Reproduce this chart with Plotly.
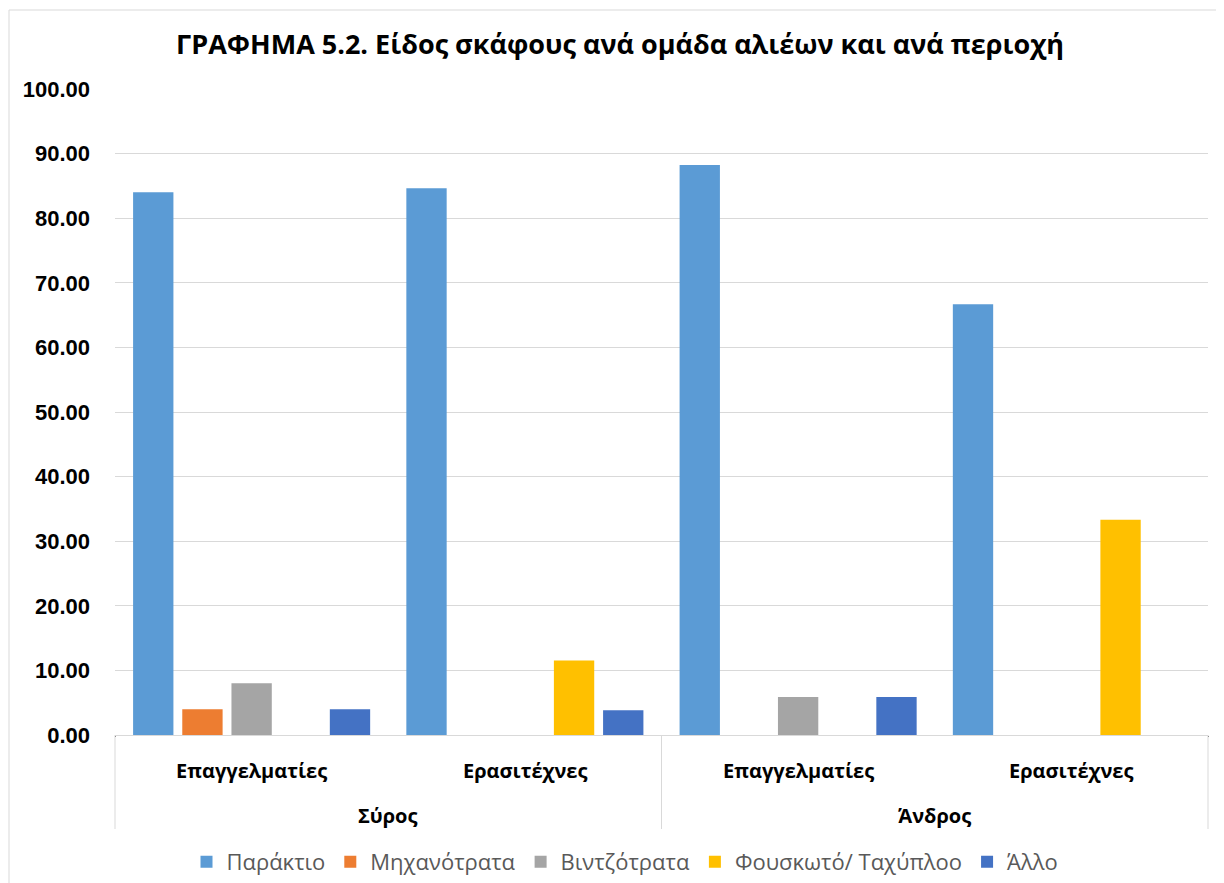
import plotly.graph_objects as go

regions = ["Σύρος", "Σύρος", "Άνδρος", "Άνδρος"]
groups = ["Επαγγελματίες", "Ερασιτέχνες", "Επαγγελματίες", "Ερασιτέχνες"]

series_names = ["Παράκτιο", "Μηχανότρατα", "Βιντζότρατα", "Φουσκωτό/ Ταχύπλοο", "Άλλο"]
parakt = [84.00, 84.62, 88.24, 66.67]
mixan = [4.00, 0.00, 0.00, 0.00]
vintz = [8.00, 0.00, 5.88, 0.00]
fousk = [0.00, 11.54, 0.00, 33.33]
allo = [4.00, 3.85, 5.88, 0.00]
values = [parakt, mixan, vintz, fousk, allo]
colors = ["#5B9BD5", "#ED7D31", "#A5A5A5", "#FFC000", "#4472C4"]

fig = go.Figure()
for name, vals, col in zip(series_names, values, colors):
    fig.add_trace(go.Bar(
        x=[regions, groups], y=vals, name=name,
        marker=dict(color=col, line=dict(width=0)),
    ))

# page body adds an 8px offset; figure coordinates = screen - 8
W, H = 1224, 883
OFF = 8
L = 115 - OFF
T = 89 - OFF
plot_bottom = 735 - OFF
B = H - plot_bottom
R = W - (1208 - OFF)
pw, ph = W - L - R, H - T - B

def px2x(sx):
    return (sx - OFF - L) / pw

def py2y(sy):
    return (plot_bottom - (sy - OFF)) / ph

GRID = "#D9D9D9"
fig.update_layout(
    width=W, height=H,
    margin=dict(l=L, r=R, t=T, b=B, autoexpand=False),
    paper_bgcolor="white", plot_bgcolor="white",
    barmode="group", bargap=0.10, bargroupgap=0.18,
    title=dict(text="<b>ΓΡΑΦΗΜΑ 5.2. Είδος σκάφους ανά ομάδα αλιέων και ανά περιοχή</b>",
               x=0.5, xanchor="center", y=1 - (45 - OFF) / H, yanchor="middle",
               font=dict(family="Open Sans", size=27, color="black")),
    legend=dict(orientation="h", x=px2x(625), xanchor="center", y=py2y(862), yanchor="middle",
                font=dict(family="Open Sans", size=22, color="#595959"),
                itemsizing="constant", traceorder="normal", itemwidth=30),
    showlegend=True,
    font=dict(family="Open Sans"),
)
fig.update_yaxes(range=[0, 100], dtick=10, tickformat=".2f", automargin=False,
                 showgrid=True, gridcolor=GRID, gridwidth=1,
                 zeroline=False, showline=False, ticks="", ticklabelstandoff=24,
                 tickfont=dict(family="Liberation Sans", size=22, color="black", weight="bold"))
fig.update_xaxes(type="multicategory", showline=True, linecolor=GRID, linewidth=1,
                 showticklabels=False, automargin=False, ticks="")

# category labels (two levels) under the axis
n = len(groups)
for i, g in enumerate(groups):
    fig.add_annotation(text="<b>%s</b>" % g, xref="paper", yref="paper",
                       x=(i + 0.5) / n, y=py2y(770), showarrow=False,
                       xanchor="center", yanchor="middle",
                       font=dict(family="Open Sans", size=20, color="black"))
seen = []
for r in regions:
    if r not in seen:
        seen.append(r)
for r in seen:
    idx = [i for i, rr in enumerate(regions) if rr == r]
    fig.add_annotation(text="<b>%s</b>" % r, xref="paper", yref="paper",
                       x=(min(idx) + max(idx) + 1) / 2 / n, y=py2y(815), showarrow=False,
                       xanchor="center", yanchor="middle",
                       font=dict(family="Open Sans", size=20, color="black"))

# dividers of the category box: ends and region boundaries
bounds = [0]
for i in range(1, n):
    if regions[i] != regions[i - 1]:
        bounds.append(i)
bounds.append(n)
for bnd in bounds:
    fig.add_shape(type="line", xref="paper", yref="paper",
                  x0=bnd / n, x1=bnd / n, y0=0, y1=py2y(829),
                  line=dict(color=GRID, width=1))

# chart-area border
fig.add_shape(type="rect", xref="paper", yref="paper",
              x0=px2x(9), x1=px2x(1222), y0=py2y(900), y1=py2y(10),
              line=dict(color=GRID, width=1), fillcolor="rgba(0,0,0,0)", layer="below")

fig.write_html("out.html")
